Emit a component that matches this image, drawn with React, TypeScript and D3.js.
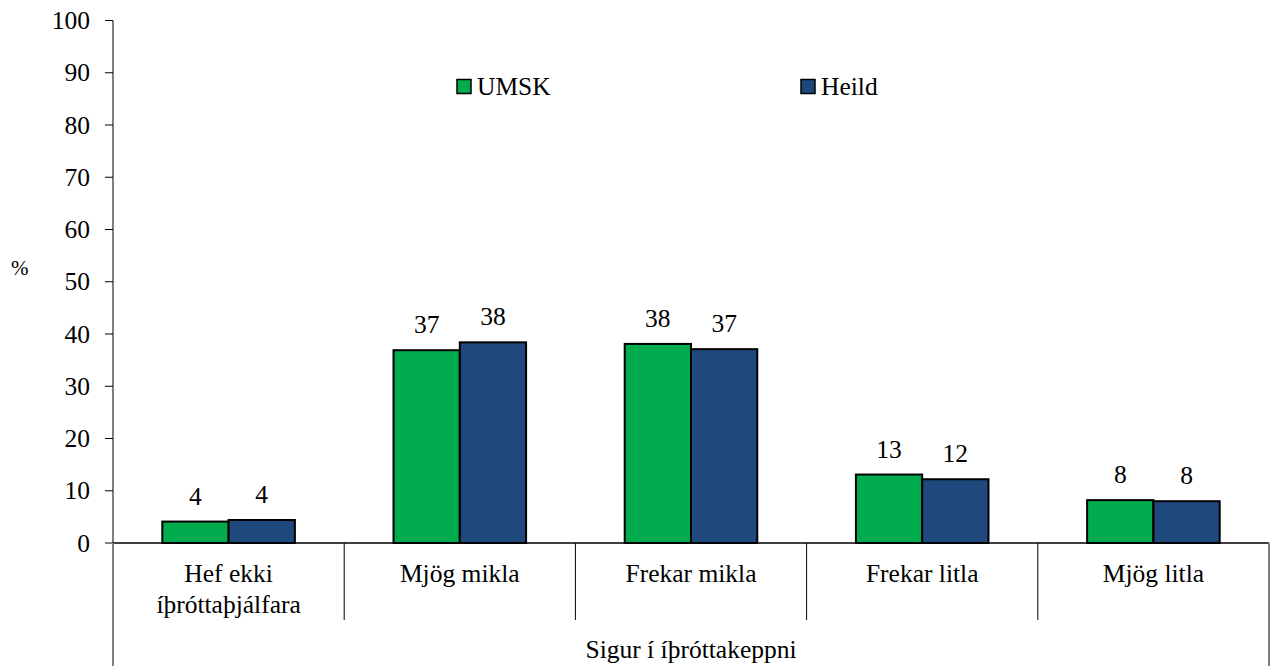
import React from "react";
import * as d3 from "d3";

const categories = [["Hef ekki", "íþróttaþjálfara"], ["Mjög mikla"], ["Frekar mikla"], ["Frekar litla"], ["Mjög litla"]];
const seriesNames = ["UMSK", "Heild"];
const umsk = [4.1, 36.9, 38.1, 13.1, 8.2];
const heild = [4.4, 38.4, 37.1, 12.2, 8.0];
const yTicks = [0, 10, 20, 30, 40, 50, 60, 70, 80, 90, 100];
const colors = ["#00AC4E", "#1F497D"];
const groupTitle = "Sigur í íþróttakeppni";

export default function App() {
  const W = 1272, H = 666;
  const left = 113, right = 1269;
  const y = d3.scaleLinear().domain([0, 100]).range([543, 20.5]);
  const x = d3.scaleBand<number>().domain(d3.range(categories.length)).range([left, right]).paddingInner(0).paddingOuter(0);
  const inner = d3.scaleBand<number>().domain([0, 1]).range([0, x.bandwidth()]).paddingOuter(0.744).paddingInner(0);
  const font = '"Liberation Serif", Tinos, "Times New Roman", Times, "Nimbus Roman", "Noto Serif", "DejaVu Serif", FreeSerif, serif';
  const series = [umsk, heild];
  const fs = 25.5;
  return (
    <svg width={W} height={H} style={{ position: "absolute", left: 0, top: 0, fontFamily: font }}>
      <rect width={W} height={H} fill="white" />
      {/* bars */}
      {series.map((vals, si) =>
        vals.map((v, i) => (
          <rect key={`${si}-${i}`} x={(x(i) ?? 0) + (inner(si) ?? 0)} y={y(v)} width={inner.bandwidth()} height={y(0) - y(v)}
            fill={colors[si]} stroke="#000" strokeWidth={2} />
        ))
      )}
      {series.map((vals, si) =>
        vals.map((v, i) => (
          <text key={`l${si}-${i}`} x={(x(i) ?? 0) + (inner(si) ?? 0) + inner.bandwidth() / 2} y={y(v) - 17} textAnchor="middle" fontSize={fs}>
            {Math.round(v)}
          </text>
        ))
      )}
      {/* y axis */}
      <line x1={113} x2={113} y1={20.5} y2={666} stroke="#808080" strokeWidth={2} />
      {yTicks.map((t) => (
        <g key={t}>
          <line x1={105} x2={113} y1={y(t)} y2={y(t)} stroke="#000" strokeWidth={1} />
          <text x={90} y={y(t)} dy="0.34em" textAnchor="end" fontSize={fs}>{t}</text>
        </g>
      ))}
      <text x={11} y={275} fontSize={21}>%</text>
      {/* x axis */}
      <line x1={113} x2={right} y1={543} y2={543} stroke="#000" strokeWidth={1.5} />
      {d3.range(categories.length + 1).map((i) => {
        const xx = i === categories.length ? right : (x(i) ?? 0);
        const outer = i === 0 || i === categories.length;
        return <line key={i} x1={xx} x2={xx} y1={543} y2={outer ? 666 : 620} stroke={outer ? "#808080" : "#000"} strokeWidth={outer ? 2 : 1} />;
      })}
      {categories.map((c, i) => (
        <text key={i} x={(x(i) ?? 0) + x.bandwidth() / 2} y={582} textAnchor="middle" fontSize={fs}>
          {c.map((line, j) => (
            <tspan key={j} x={(x(i) ?? 0) + x.bandwidth() / 2} dy={j === 0 ? 0 : 31}>{line}</tspan>
          ))}
        </text>
      ))}
      <text x={(left + right) / 2} y={658} textAnchor="middle" fontSize={fs}>{groupTitle}</text>
      {/* legend */}
      {seriesNames.map((n, i) => {
        const lx = i === 0 ? 457 : 801;
        return (
          <g key={n}>
            <rect x={lx} y={79.5} width={14} height={14} fill={colors[i]} stroke="#000" strokeWidth={1.5} />
            <text x={lx + 20} y={95} fontSize={fs}>{n}</text>
          </g>
        );
      })}
    </svg>
  );
}
